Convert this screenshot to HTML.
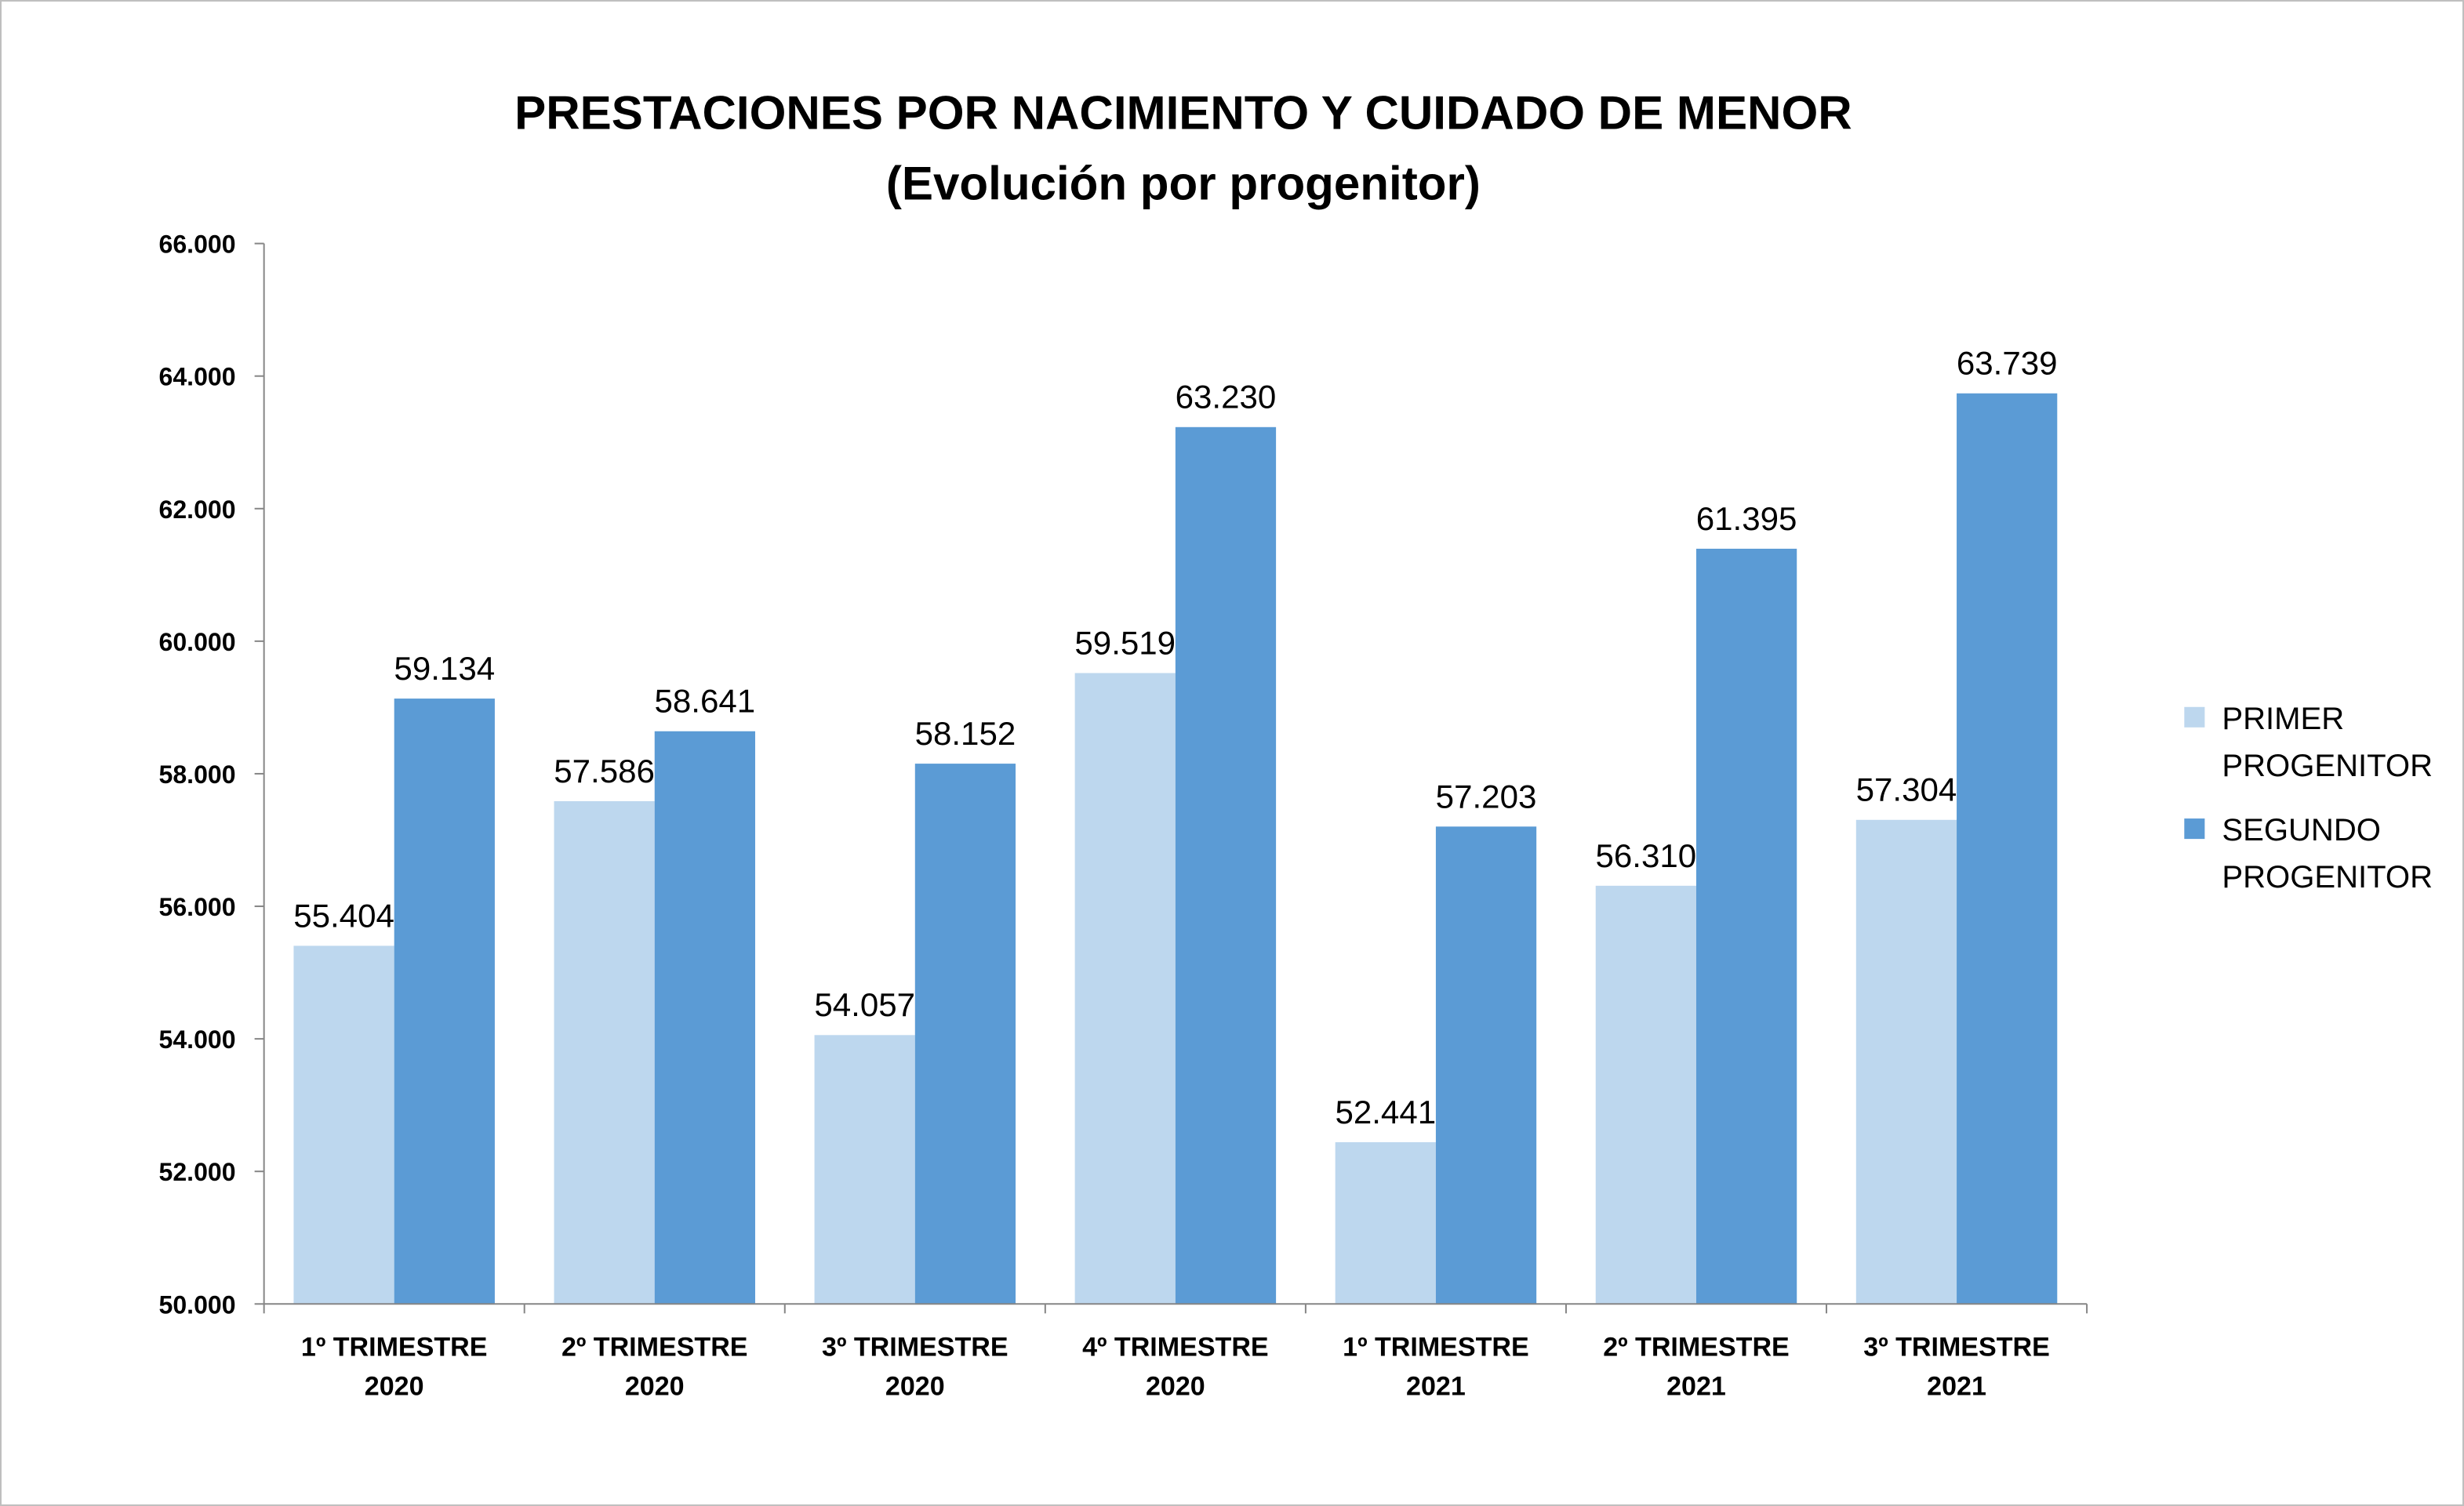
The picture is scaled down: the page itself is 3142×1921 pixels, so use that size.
<!DOCTYPE html>
<html><head><meta charset="utf-8"><style>html,body{margin:0;padding:0;background:#fff}svg{display:block}</style></head>
<body>
<svg id="chart" width="3142" height="1921" viewBox="0 0 1568 958.6" preserveAspectRatio="none" xmlns="http://www.w3.org/2000/svg" font-family="'Liberation Sans', sans-serif">
<rect x="0.5" y="0.5" width="1567" height="957.6" fill="#fff" stroke="#bfbfbf" stroke-width="1"/>
<text x="753" y="82" text-anchor="middle" font-size="30" font-weight="bold" fill="#000">PRESTACIONES POR NACIMIENTO Y CUIDADO DE MENOR</text>
<text x="753" y="127" text-anchor="middle" font-size="30" font-weight="bold" fill="#000">(Evolución por progenitor)</text>
<g id="plot"></g>
<g>
<rect x="1390" y="450" width="13" height="13" fill="#BDD7EE"/>
<text x="1414" y="464" font-size="20" fill="#000">PRIMER</text>
<text x="1414" y="494" font-size="20" fill="#000">PROGENITOR</text>
<rect x="1390" y="521" width="13" height="13" fill="#5B9BD5"/>
<text x="1414" y="535" font-size="20" fill="#000">SEGUNDO</text>
<text x="1414" y="565" font-size="20" fill="#000">PROGENITOR</text>
</g>
</svg>
<script>
const categories = [["1º TRIMESTRE","2020"],["2º TRIMESTRE","2020"],["3º TRIMESTRE","2020"],["4º TRIMESTRE","2020"],["1º TRIMESTRE","2021"],["2º TRIMESTRE","2021"],["3º TRIMESTRE","2021"]];
const primer = [55404,57586,54057,59519,52441,56310,57304];
const segundo = [59134,58641,58152,63230,57203,61395,63739];
const yTicks = [50000,52000,54000,56000,58000,60000,62000,64000,66000];

const NS="http://www.w3.org/2000/svg";
const g=document.getElementById('plot');
const x0=168,x1=1328,yTop=155,yBot=830,yMin=50000,yMax=66000;
const catW=(x1-x0)/categories.length, barW=64, pad=(catW-2*barW)/2;
const yS=v=>yBot-(v-yMin)/(yMax-yMin)*(yBot-yTop);
const fmt=v=>v.toLocaleString('de-DE');
function mk(tag,attrs,text){const e=document.createElementNS(NS,tag);for(const k in attrs)e.setAttribute(k,attrs[k]);if(text!==undefined)e.textContent=text;g.appendChild(e);return e;}

yTicks.forEach(t=>{
  const y=yS(t);
  const tk=mk('line',{x1:162,x2:x0,y1:y,y2:y,stroke:'#868686'});
  
  
  const lb=mk('text',{x:150,y:y+6,'text-anchor':'end','font-size':16,'font-weight':'bold',fill:'#000'},fmt(t));
  
  
});
const ya=mk('line',{x1:x0,x2:x0,y1:yTop,y2:yBot,stroke:'#868686'});



categories.forEach((c,i)=>{
  const cx=x0+i*catW;
  [[primer[i],'#BDD7EE','bar-primer'],[segundo[i],'#5B9BD5','bar-segundo']].forEach((s,j)=>{
    const bx=cx+pad+j*barW, y=yS(s[0]);
    const r=mk('rect',{x:bx,y:y,width:barW,height:yBot-y,fill:s[1]});
    
    
    const t=mk('text',{x:bx+barW/2,y:y-12,'text-anchor':'middle','font-size':21,fill:'#000'},fmt(s[0]));
    
    
  });
  const l1=mk('text',{x:cx+catW/2,y:863,'text-anchor':'middle','font-size':17,'font-weight':'bold',fill:'#000'},c[0]);
  
  
  const l2=mk('text',{x:cx+catW/2,y:888,'text-anchor':'middle','font-size':17,'font-weight':'bold',fill:'#000'},c[1]);
  
  
});
for(let i=0;i<=categories.length;i++){
  const x=x0+i*catW;
  const tk=mk('line',{x1:x,x2:x,y1:yBot,y2:yBot+6,stroke:'#868686'});
  
  
}
const xa=mk('line',{x1:x0,x2:x1,y1:yBot,y2:yBot,stroke:'#868686'});


</script>
</body></html>
